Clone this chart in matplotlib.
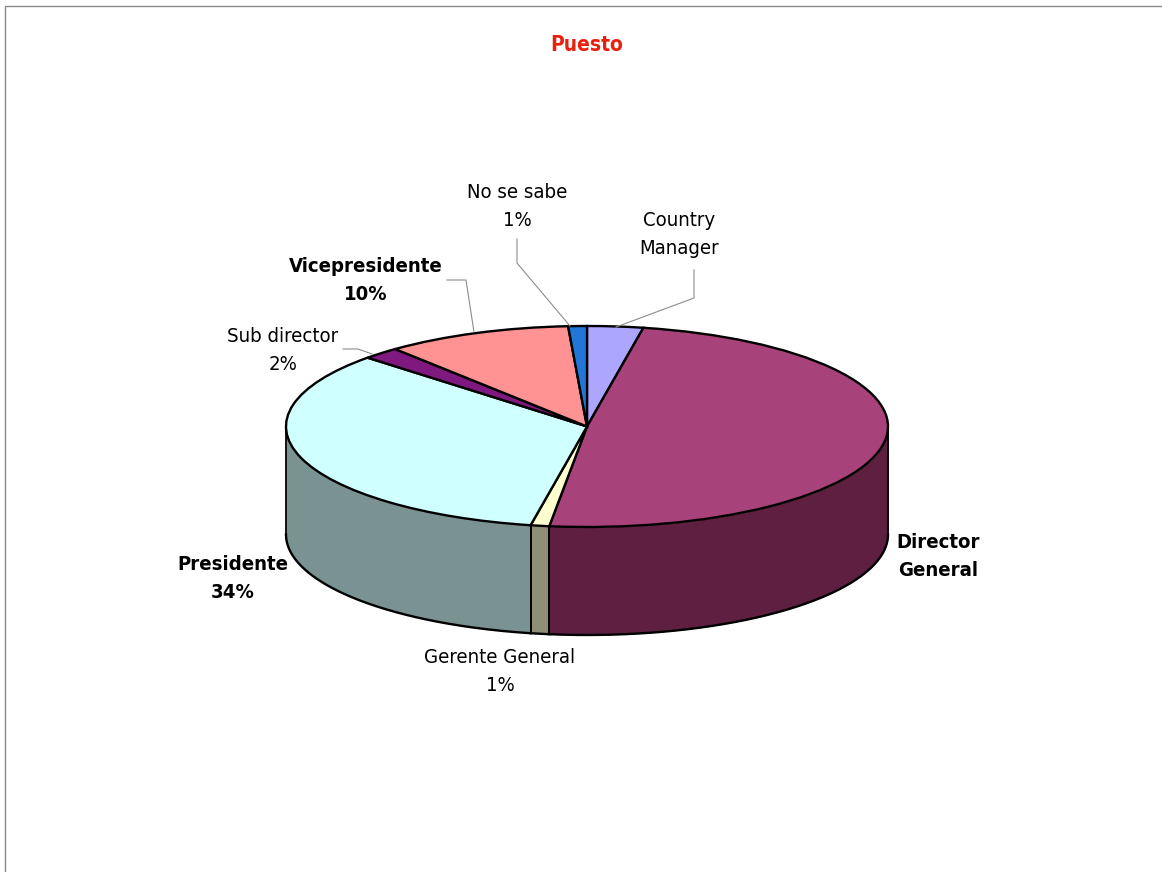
import numpy as np
import matplotlib
matplotlib.use('Agg')
import matplotlib.pyplot as plt

puestos = ['Country\nManager', 'Director\nGeneral', 'Gerente General\n1%', 'Presidente\n34%',
           'Sub director\n2%', 'Vicepresidente\n10%', 'No se sabe\n1%']
valores = [3, 49, 1, 34, 2, 10, 1]
colores = ['#ADA6FF', '#A8427A', '#FFFFD0', '#CFFFFF', '#80197F', '#FF9292', '#2176D8']
colores_lado = ['#6B6899', '#5E1F40', '#8F8F75', '#7A9292', '#4D0F4C', '#995858', '#144782']
negrita = [False, True, False, True, False, True, False]

W, H = 1162, 872
cx, cy, rx, ry = 587, 426.5, 301, 100.5
grosor = 108

# label anchor (centre) and leader polyline, in pixels
pos_etiquetas = [(679, 235), (938, 556), (500, 671), (233, 578), (283, 350), (366, 281), (517, 206)]
guias = [[(694, 270), (694, 298), (616, 327)],
         None,
         None,
         None,
         [(343, 349), (358, 349), (372, 354)],
         [(447, 280), (466, 280), (474, 332)],
         [(517, 239), (517, 263), (570, 326)]]


def a_pie(x, y):
    return (np.asarray(x) - cx) / rx, (cy - np.asarray(y)) / ry


fig = plt.figure(figsize=(W / 100, H / 100), dpi=100, facecolor='white')
ax = fig.add_axes([0, 0, 1, 1])

# the ellipse comes from the non-equal x and y scales of the axes
ax.pie(valores, colors=colores, startangle=90, counterclock=False, radius=1,
       wedgeprops={'edgecolor': 'black', 'linewidth': 1.7, 'zorder': 5})
ax.set_aspect('auto')
ax.set_xlim(*a_pie(np.array([0, W]), 0)[0])
ax.set_ylim(*a_pie(0, np.array([H, 0]))[1])
ax.axis('off')

# side wall: only the front half of the rim (90 to 270 degrees clockwise from top)
fondo = grosor / ry
cortes = np.concatenate([[0], np.cumsum(valores)]) * 3.6
for i in range(len(valores)):
    a0, a1 = max(cortes[i], 90), min(cortes[i + 1], 270)
    if a1 <= a0:
        continue
    t = np.radians(np.linspace(a0, a1, 200))
    x, y = np.sin(t), np.cos(t)
    ax.fill_between(x, y, y - fondo, color=colores_lado[i], linewidth=0, zorder=2)
    ax.plot(x, y - fondo, color='black', lw=1.7, zorder=3)
    for xb, yb in [(x[0], y[0]), (x[-1], y[-1])]:
        ax.plot([xb, xb], [yb, yb - fondo], color='black', lw=1.3, zorder=3)

for etiqueta, (px, py), guia, b in zip(puestos, pos_etiquetas, guias, negrita):
    xt, yt = a_pie(px, py)
    ax.text(xt, yt, etiqueta, ha='center', va='center', fontsize=14.6,
            family='DejaVu Sans', stretch='condensed',
            weight='bold' if b else 'normal', linespacing=1.6, color='black', zorder=6)
    if guia:
        gx, gy = a_pie(*np.array(guia).T)
        ax.plot(gx, gy, color='#8C8C8C', lw=0.8, zorder=6)

xt, yt = a_pie(587, 45)
ax.text(xt, yt, 'Puesto', ha='center', va='center', fontsize=15, family='DejaVu Sans',
        stretch='condensed', weight='bold', color='#E8200E')

# thin page border along the top and left
bx, by = a_pie(np.array([5, 5, W]), np.array([H, 6.5, 6.5]))
ax.plot(bx, by, color='#8A8A8A', lw=1.0, clip_on=False)

fig.savefig('out.png', dpi=100)
